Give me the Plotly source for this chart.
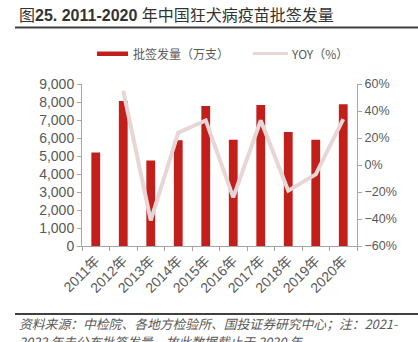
import plotly.graph_objects as go

years = ["2011年", "2012年", "2013年", "2014年", "2015年", "2016年", "2017年", "2018年", "2019年", "2020年"]
volume = [5200, 8050, 4750, 5870, 7780, 5900, 7830, 6330, 5900, 7880]
yoy_years = years[1:]
yoy = [55, -41, 24, 33, -24, 33, -19, -7, 34]

BAR_C = "#C21F1A"
LINE_C = "#E8D6D6"
AX_C = "#A6A6A6"
TXT_C = "#595959"
CJK = "Noto Sans CJK SC"

W, H = 418, 342
L, R, T, B = 82, 61, 84, 96
PW, PH = W - L - R, H - T - B

def px(x):
    return (x - L) / PW

def py(y):
    return (H - B - y) / PH

fig = go.Figure()
fig.add_trace(go.Bar(x=years, y=volume, marker=dict(color=BAR_C, line=dict(width=0)),
                     name="批签发量（万支）", yaxis="y"))
fig.add_trace(go.Scatter(x=yoy_years, y=yoy, mode="lines", line=dict(color=LINE_C, width=4),
                         name="YOY（%）", yaxis="y2"))

fig.update_layout(
    width=W, height=H,
    margin=dict(l=L, r=R, t=T, b=B),
    paper_bgcolor="white", plot_bgcolor="white",
    showlegend=False,
    bargap=0.68,
    xaxis=dict(type="category", showline=True, linecolor=AX_C, linewidth=1,
               ticks="outside", tickson="boundaries", ticklen=4, tickcolor=AX_C,
               tickangle=-45, tickfont=dict(family="Liberation Sans, " + CJK, size=14, color=TXT_C),
               showgrid=False),
    yaxis=dict(range=[0, 9000], dtick=1000, tickformat=",d", showline=True, linecolor=AX_C,
               ticks="outside", ticklen=4, tickcolor=AX_C, showgrid=False, zeroline=False,
               tickfont=dict(family="Liberation Sans", size=14, color=TXT_C)),
    yaxis2=dict(range=[-60, 60], dtick=20, ticksuffix="%", overlaying="y", side="right",
                showline=True, linecolor=AX_C, ticks="outside", ticklen=4, tickcolor=AX_C,
                showgrid=False, zeroline=False,
                tickfont=dict(family="Liberation Sans", size=12.5, color=TXT_C)),
)

shapes = [
    # title underline
    dict(type="line", xref="paper", yref="paper", x0=px(15), x1=px(418), y0=py(27.5), y1=py(27.5),
         line=dict(color="#404040", width=2)),
    # footer line
    dict(type="line", xref="paper", yref="paper", x0=px(15), x1=px(418), y0=py(314), y1=py(314),
         line=dict(color="#404040", width=2)),
    # legend symbols
    dict(type="rect", xref="paper", yref="paper", x0=px(97), x1=px(128), y0=py(51.5), y1=py(56),
         fillcolor=BAR_C, line=dict(width=0)),
    dict(type="line", xref="paper", yref="paper", x0=px(253), x1=px(288), y0=py(53.5), y1=py(53.5),
         line=dict(color=LINE_C, width=3)),
]
fig.update_layout(shapes=shapes)

ann = [
    dict(text="图<b>25. 2011-2020</b> 年中国狂犬病疫苗批签发量", x=px(17), y=py(16),
         xanchor="left", yanchor="middle", font=dict(family="Liberation Sans, " + CJK, size=16, color="#333333")),
    dict(text="批签发量（万支）", x=px(131), y=py(53.5), xanchor="left", yanchor="middle",
         font=dict(family=CJK, size=12, color=TXT_C)),
    dict(text="YOY（%）", x=px(289), y=py(53.5), xanchor="left", yanchor="middle",
         font=dict(family=CJK, size=12, color=TXT_C)),
    dict(text="<i>资料来源：中检院、各地方检验所、国投证券研究中心；注：2021-</i>", x=px(17), y=py(323.5),
         xanchor="left", yanchor="middle", font=dict(family=CJK, size=12.8, color=TXT_C)),
    dict(text="<i>2022 年未公布批签发量，故此数据截止于 2020 年</i>", x=px(17), y=py(341),
         xanchor="left", yanchor="middle", font=dict(family=CJK, size=12.8, color=TXT_C)),
]
for a in ann:
    a.update(xref="paper", yref="paper", showarrow=False)
fig.update_layout(annotations=ann)

fig.write_html("out.html")
